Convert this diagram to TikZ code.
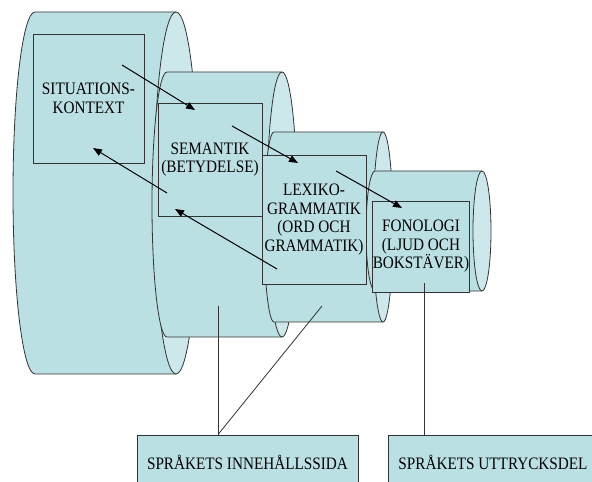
\documentclass[tikz,border=0pt]{standalone}
\usepackage{fontspec}
\setmainfont{Liberation Serif}[FakeStretch=0.87]
\usepackage{tikz}
\usetikzlibrary{arrows.meta, positioning, calc}
\definecolor{cylbody}{RGB}{187,224,227}
\definecolor{cylface}{RGB}{204,232,234}
\begin{document}
\begin{tikzpicture}[x=1pt, y=1pt,
    body/.style={fill=cylbody, draw=none},
    rim/.style={draw=black!80, line width=0.8pt},
    face/.style={fill=cylface, draw=black!80, line width=0.8pt},
    level/.style={draw=black!80, fill=cylbody, line width=0.8pt, inner sep=0pt, align=center, font=\fontsize{17.5}{18.5}\selectfont},
    side/.style={level, minimum width=#1, minimum height=54pt},
    flow/.style={-{Triangle[length=9pt, width=7pt]}, line width=1pt},
    link/.style={draw=black!80, line width=0.8pt}
]
\useasboundingbox (0,0) rectangle (592,482);

% Cylinders, largest first
\foreach \xl/\xr/\yt/\yb/\rx in {35/176/470/108/22, 167/282/410/145/15, 274/383/350/160/10, 375/482/311/191/9} {
    \fill[body] (\xl,\yt) -- (\xr,\yt) -- (\xr,\yb) -- (\xl,\yb) arc[start angle=270, end angle=90, x radius=\rx, y radius={(\yt-\yb)/2}] -- cycle;
    \draw[rim] (\xr,\yt) -- (\xl,\yt) arc[start angle=90, end angle=270, x radius=\rx, y radius={(\yt-\yb)/2}] -- (\xr,\yb);
    \draw[face] (\xr,{(\yt+\yb)/2}) ellipse[x radius=\rx, y radius={(\yt-\yb)/2}];
}

% Levels
\node[level, minimum width=111pt, minimum height=129pt] (situ) at (88.5,383.5) {SITUATIONS-\\KONTEXT};
\node[level, minimum width=104pt, minimum height=113pt] (sem) at (210,322.5) {SEMANTIK\\(BETYDELSE)};
\node[level, minimum width=104pt, minimum height=129pt] (lex) at (314,262.5) {LEXIKO-\\GRAMMATIK\\(ORD OCH\\GRAMMATIK)};
\node[level, minimum width=96pt, minimum height=91pt] (fon) at (421,235.5) {FONOLOGI\\(LJUD OCH\\BOKSTÄVER)};

% Sides of language
\node[side=221pt] (inneh) at (247.5,20) {SPRÅKETS INNEHÅLLSSIDA};
\node[side=210pt] (uttr) at (493,20) {SPRÅKETS UTTRYCKSDEL};

% Realisation arrows
\draw[flow] ([shift={(33.5,33.5)}]situ.center) -- ([shift={(-15,49.5)}]sem.center);
\draw[flow] ([shift={(22,33.5)}]sem.center) -- ([shift={(-16,56.5)}]lex.center);
\draw[flow] ([shift={(22,48.5)}]lex.center) -- ([shift={(-19,38.5)}]fon.center);
\draw[flow] ([shift={(-37,-49.5)}]lex.center) -- ([shift={(-35,-49.5)}]sem.center);
\draw[flow] ([shift={(-43,-33.5)}]sem.center) -- ([shift={(4.5,-49.5)}]situ.center);

% Links to the two sides
\coordinate (semfoot) at (218,176);
\coordinate (lexfoot) at (322,176);
\coordinate (fonfoot) at ([shift={(3,9)}]fon.south);
\draw[link] (semfoot) -- (semfoot |- inneh.north);
\draw[link] (lexfoot) -- (semfoot |- inneh.north);
\draw[link] (fonfoot) -- (fonfoot |- uttr.north);

\end{tikzpicture}
\end{document}
